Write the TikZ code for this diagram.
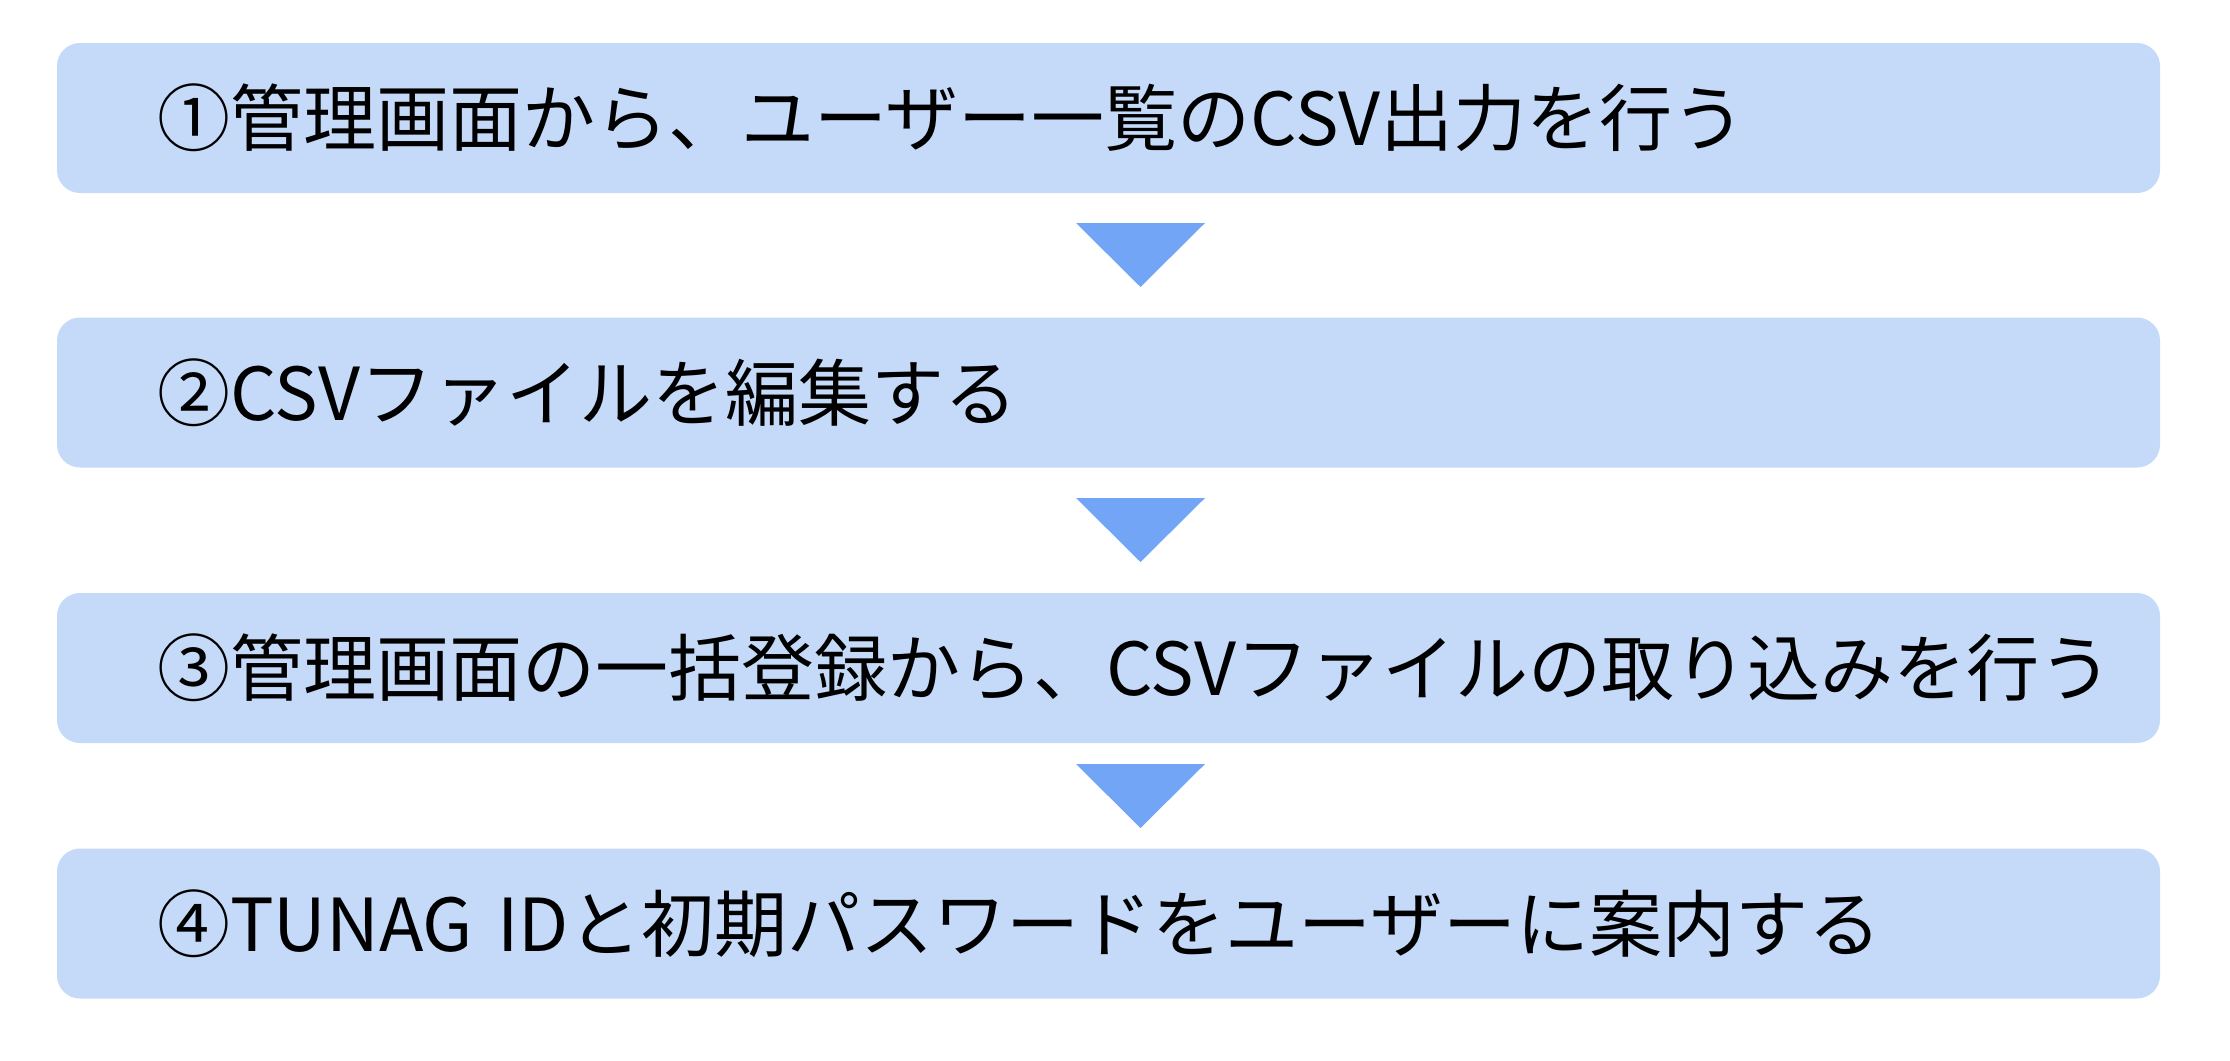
\documentclass[tikz,border=0pt]{standalone}
\usepackage{fontspec}
\setmainfont{Noto Sans CJK JP}
\definecolor{boxfill}{HTML}{C5DAF8}
\definecolor{arrowfill}{HTML}{72A5F5}
\tikzset{
  stepbox/.style={fill=boxfill, draw=none, rounded corners=11.5pt,
    minimum width=1051.5pt, minimum height=75pt, inner xsep=50pt, inner ysep=0pt,
    text width=951.5pt, align=left, font=\fontsize{36.5pt}{40pt}\selectfont, anchor=center},
  downtri/.style={fill=arrowfill, draw=none}
}
\begin{document}
\begin{tikzpicture}[x=0.5pt,y=-0.5pt]
\useasboundingbox (0,0) rectangle (2230,1060);
\node[stepbox] (s1) at (1108.5,118) {①管理画面から、ユーザー一覧のCSV出力を行う};
\node[stepbox] (s2) at (1108.5,392.5) {②CSVファイルを編集する};
\node[stepbox] (s3) at (1108.5,668) {③管理画面の一括登録から、CSVファイルの取り込みを行う};
\node[stepbox] (s4) at (1108.5,923.5) {④TUNAG IDと初期パスワードをユーザーに案内する};
\coordinate (t1) at (1140.5,223);
\coordinate (t2) at (1140.5,498);
\coordinate (t3) at (1140.5,764);
\foreach \t in {t1,t2,t3}{
  \fill[downtri] (\t) ++(-64.5,0) -- ++(129,0) -- ++(-64.5,64) -- cycle;
}
\end{tikzpicture}
\end{document}
